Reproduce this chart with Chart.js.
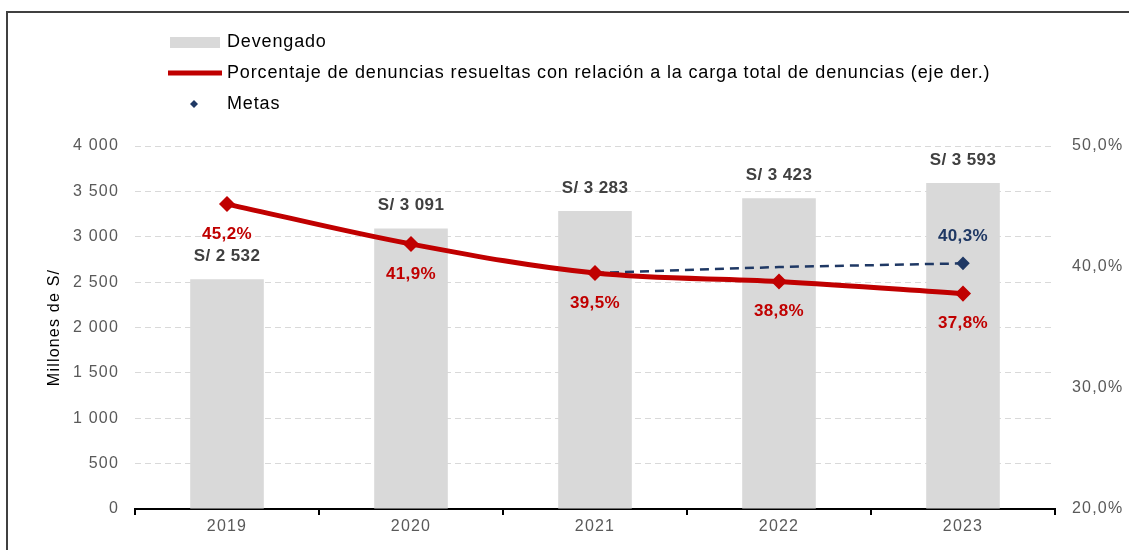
<!DOCTYPE html>
<html>
<head>
<meta charset="utf-8">
<script src="https://cdn.jsdelivr.net/npm/chart.js@4.4.1/dist/chart.umd.min.js"></script>
<style>
  html, body { margin: 0; padding: 0; background: #fff; }
  #wrap { position: relative; width: 1129px; height: 550px; }
</style>
</head>
<body>
<div id="wrap"><canvas id="grafico" width="1129" height="550"></canvas></div>
<script>
// datos
const anios = ['2019', '2020', '2021', '2022', '2023'];
const devengado = [2532, 3091, 3283, 3423, 3593];
const porcentajeResueltas = [45.2, 41.9, 39.5, 38.8, 37.8];
const metas = [null, null, 39.5, 40.0, 40.3];
const ticksIzq = [0, 500, 1000, 1500, 2000, 2500, 3000, 3500, 4000];
const ticksDer = [20, 30, 40, 50];

const etiquetaLeyenda = [
  'Devengado',
  'Porcentaje de denuncias resueltas con relación a la carga total de denuncias (eje der.)',
  'Metas'
];

const FUENTE = '"Liberation Sans", Arial, sans-serif';
const GRIS = '#d9d9d9';
const ROJO = '#c00000';
const AZUL = '#1f3864';

const miles = v => String(v).replace(/\B(?=(\d{3})+(?!\d))/g, ' ');
const pct = v => v.toFixed(1).replace('.', ',') + '%';

const canvas = document.getElementById('grafico');

// dibuja leyenda, marco y etiquetas de datos
const extras = {
  id: 'extras',
  beforeDraw(chart) {
    const ctx = chart.ctx;
    ctx.save();
    ctx.strokeStyle = '#404040';
    ctx.lineWidth = 2;
    ctx.strokeRect(7, 12, 1300, 700);
    ctx.restore();
    // el original tiene el texto de los ejes algo mas espaciado
    ctx.letterSpacing = '1.2px';
  },
  afterDraw(chart) {
    const ctx = chart.ctx;
    ctx.save();
    // leyenda
    ctx.font = '18px ' + FUENTE;
    ctx.letterSpacing = '0.85px';
    ctx.textBaseline = 'middle';
    ctx.textAlign = 'left';
    ctx.fillStyle = GRIS;
    ctx.fillRect(170, 37, 50, 11);
    ctx.fillStyle = '#000';
    ctx.fillText(etiquetaLeyenda[0], 227, 42);

    ctx.strokeStyle = ROJO;
    ctx.lineWidth = 5;
    ctx.beginPath();
    ctx.moveTo(168, 73);
    ctx.lineTo(222, 73);
    ctx.stroke();
    ctx.fillStyle = '#000';
    ctx.fillText(etiquetaLeyenda[1], 227, 73);

    ctx.fillStyle = AZUL;
    ctx.beginPath();
    ctx.moveTo(194, 100); ctx.lineTo(198, 104); ctx.lineTo(194, 108); ctx.lineTo(190, 104);
    ctx.closePath();
    ctx.fill();
    ctx.fillStyle = '#000';
    ctx.fillText(etiquetaLeyenda[2], 227, 104);

    // etiquetas de datos
    ctx.font = 'bold 17px ' + FUENTE;
    ctx.letterSpacing = '0.4px';
    ctx.textAlign = 'center';
    const barras = chart.getDatasetMeta(0).data;
    barras.forEach((b, i) => {
      ctx.fillStyle = '#404040';
      ctx.fillText('S/ ' + miles(devengado[i]), b.x, b.y - 23);
    });
    const linea = chart.getDatasetMeta(1).data;
    linea.forEach((p, i) => {
      ctx.fillStyle = ROJO;
      ctx.fillText(pct(porcentajeResueltas[i]), p.x, p.y + 30);
    });
    const meta = chart.getDatasetMeta(2).data;
    const ult = meta.length - 1;
    ctx.fillStyle = AZUL;
    ctx.fillText(pct(metas[ult]), meta[ult].x, meta[ult].y - 27);
    ctx.restore();
  }
};

new Chart(canvas, {
  type: 'bar',
  data: {
    labels: anios,
    datasets: [
      {
        type: 'bar',
        label: etiquetaLeyenda[0],
        data: devengado,
        backgroundColor: GRIS,
        barPercentage: 0.4,
        categoryPercentage: 1,
        yAxisID: 'y',
        order: 3
      },
      {
        type: 'line',
        label: etiquetaLeyenda[1],
        data: porcentajeResueltas,
        borderColor: ROJO,
        backgroundColor: ROJO,
        borderWidth: 5,
        tension: 0.35,
        pointStyle: 'rectRot',
        pointRadius: 4.5,
        yAxisID: 'y1',
        order: 1
      },
      {
        type: 'line',
        label: etiquetaLeyenda[2],
        data: metas,
        borderColor: AZUL,
        backgroundColor: AZUL,
        borderWidth: 2.5,
        borderDash: [9, 6],
        tension: 0,
        pointStyle: 'rectRot',
        pointRadius: [0, 0, 0, 0, 5],
        yAxisID: 'y1',
        order: 2
      }
    ]
  },
  options: {
    responsive: false,
    animation: false,
    layout: { padding: { left: 20, top: 146, right: 0, bottom: 0 } },
    plugins: { legend: { display: false }, tooltip: { enabled: false } },
    scales: {
      x: {
        offset: true,
        grid: { drawOnChartArea: false, drawTicks: true, tickLength: 6, color: '#000', lineWidth: 2 },
        border: { display: true, color: '#000', width: 2 },
        ticks: { color: '#595959', font: { family: FUENTE, size: 16 }, padding: 2 },
        afterFit(axis) { axis.height = 41; }
      },
      y: {
        position: 'left',
        min: 0,
        max: 4000,
        afterBuildTicks(axis) { axis.ticks = ticksIzq.map(v => ({ value: v })); },
        ticks: { color: '#595959', font: { family: FUENTE, size: 16 }, padding: 16, callback: v => miles(v) },
        grid: { color: GRIS, lineWidth: 1, drawTicks: false },
        border: { display: false, dash: [6, 4] },
        title: { display: true, text: 'Millones de S/', color: '#000', font: { family: FUENTE, size: 16 }, padding: { top: 25 } },
        afterFit(axis) { axis.width = 115; }
      },
      y1: {
        position: 'right',
        min: 20,
        max: 50,
        afterBuildTicks(axis) { axis.ticks = ticksDer.map(v => ({ value: v })); },
        ticks: { color: '#595959', font: { family: FUENTE, size: 16 }, padding: 17, callback: v => pct(v) },
        grid: { drawOnChartArea: false, drawTicks: false },
        border: { display: false },
        afterFit(axis) { axis.width = 74; }
      }
    }
  },
  plugins: [extras]
});
</script>
</body>
</html>
